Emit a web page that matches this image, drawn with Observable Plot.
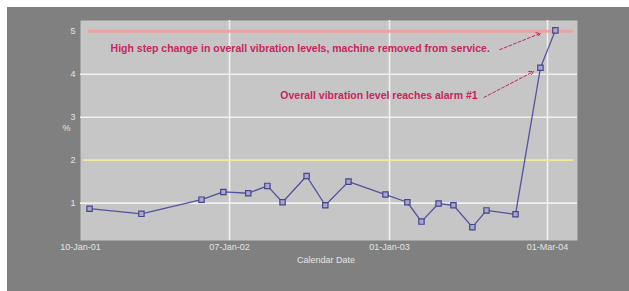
<!DOCTYPE html>
<html>
<head>
<meta charset="utf-8">
<script src="https://cdn.jsdelivr.net/npm/d3@7"></script>
<script src="https://cdn.jsdelivr.net/npm/@observablehq/plot@0.6"></script>
<style>
  body { margin: 0; background: #ffffff; }
  #wrap { position: relative; width: 629px; height: 291px; overflow: hidden; }
  #bg { position: absolute; left: 7px; top: 7px; right: 0; bottom: 0; background: #808080; }
  #chart { position: absolute; left: 0; top: 0; }
</style>
</head>
<body>
<div id="wrap"><div id="bg"></div><div id="chart"></div></div>
<script>
// Measurement dates and overall vibration level (%)
const dates = [
  "2001-02-01", "2001-06-07", "2001-10-31", "2001-12-23", "2002-02-18",
  "2002-04-02", "2002-05-06", "2002-06-29", "2002-08-10", "2002-10-01",
  "2002-12-23", "2003-02-18", "2003-03-28", "2003-05-13", "2003-06-22",
  "2003-08-12", "2003-09-19", "2003-12-06", "2004-02-11", "2004-03-22"
];
const levels = [
  0.87, 0.75, 1.08, 1.26, 1.23,
  1.40, 1.02, 1.63, 0.95, 1.50,
  1.20, 1.02, 0.57, 0.99, 0.95,
  0.44, 0.83, 0.74, 4.15, 5.02
];
// Axis ticks
const xTickDates = ["2001-01-10", "2002-01-07", "2003-01-01", "2004-03-01"];
const yTicks = [1, 2, 3, 4, 5];
const gridY = [1, 3, 4];
// Alarm levels
const alarm1 = 2;
const removalLevel = 5;
// Annotations
const noteTexts = [
  "High step change in overall vibration levels, machine removed from service.",
  "Overall vibration level reaches alarm #1"
];
const noteDates = ["2001-03-24", "2002-05-01"];
const noteLevels = [4.6, 3.5];
const arrowFromDates = ["2003-10-24", "2003-09-12"];
const arrowFromLevels = [4.57, 3.46];
const arrowToDates = ["2004-02-11", "2004-01-23"];
const arrowToLevels = [4.95, 4.06];

const parse = d3.utcParse("%Y-%m-%d");
const series = dates.map((d, i) => ({date: parse(d), value: levels[i]}));
const notes = noteTexts.map((t, i) => ({text: t, date: parse(noteDates[i]), value: noteLevels[i]}));
const arrows = arrowFromDates.map((d, i) => ({
  x1: parse(d), y1: arrowFromLevels[i], x2: parse(arrowToDates[i]), y2: arrowToLevels[i]
}));
const xTicks = xTickDates.map(parse);

// The source axis places its date labels unevenly; a piecewise time scale follows them.
const xDomain = [xTicks[0], xTicks[1], xTicks[2], xTicks[3], parse("2004-05-20")];
const xRange = [80, 229, 389, 547, 577];

const font = "Liberation Sans, Arial, sans-serif";

const chart = Plot.plot({
  width: 629,
  height: 291,
  marginLeft: 80,
  marginRight: 52,
  marginTop: 20,
  marginBottom: 51,
  style: {background: "transparent", fontFamily: font, fontSize: "9px", color: "#e4e4e4"},
  x: {type: "utc", domain: xDomain, range: xRange},
  y: {domain: [0.13, 5.25]},
  marks: [
    Plot.frame({fill: "#c6c6c6", stroke: null}),
    Plot.ruleX(xTicks.slice(1), {stroke: "#f0f0f0", strokeWidth: 1.6}),
    Plot.ruleY(gridY, {stroke: "#f0f0f0", strokeWidth: 1.6}),
    Plot.ruleY([alarm1], {stroke: "#ecec9c", strokeWidth: 1.8, insetLeft: 3, insetRight: 4}),
    Plot.ruleY([removalLevel], {stroke: "#e8a4a0", strokeWidth: 3.2, insetLeft: 8, insetRight: 4}),
    Plot.axisX({ticks: xTicks, tickFormat: d3.utcFormat("%d-%b-%y"), tickSize: 0, tickPadding: 3, label: null, fill: "#e4e4e4", fontSize: 9}),
    Plot.axisY({ticks: yTicks, tickFormat: d3.format("d"), tickSize: 0, tickPadding: 5, label: null, fill: "#e4e4e4", fontSize: 9}),
    Plot.text(["%"], {frameAnchor: "left", dx: -18, dy: -2, fill: "#e4e4e4", fontSize: 9}),
    Plot.text(["Calendar Date"], {frameAnchor: "bottom", dx: -3, dy: 22, fill: "#e4e4e4", fontSize: 9}),
    Plot.line(series, {x: "date", y: "value", stroke: "#5252a0", strokeWidth: 1.3}),
    Plot.dot(series, {x: "date", y: "value", symbol: "square", r: 3, stroke: "#45458c", fill: "#a8a8d0", strokeWidth: 1.2}),
    Plot.arrow(arrows, {x1: "x1", y1: "y1", x2: "x2", y2: "y2", stroke: "#c8245e", strokeWidth: 1, strokeDasharray: "3,2", headLength: 7, bend: false}),
    Plot.text(notes, {x: "date", y: "value", text: "text", textAnchor: "start", fill: "#c8245e", fontSize: 10.5, fontWeight: "bold"})
  ]
});
document.getElementById("chart").appendChild(chart);
</script>
</body>
</html>
